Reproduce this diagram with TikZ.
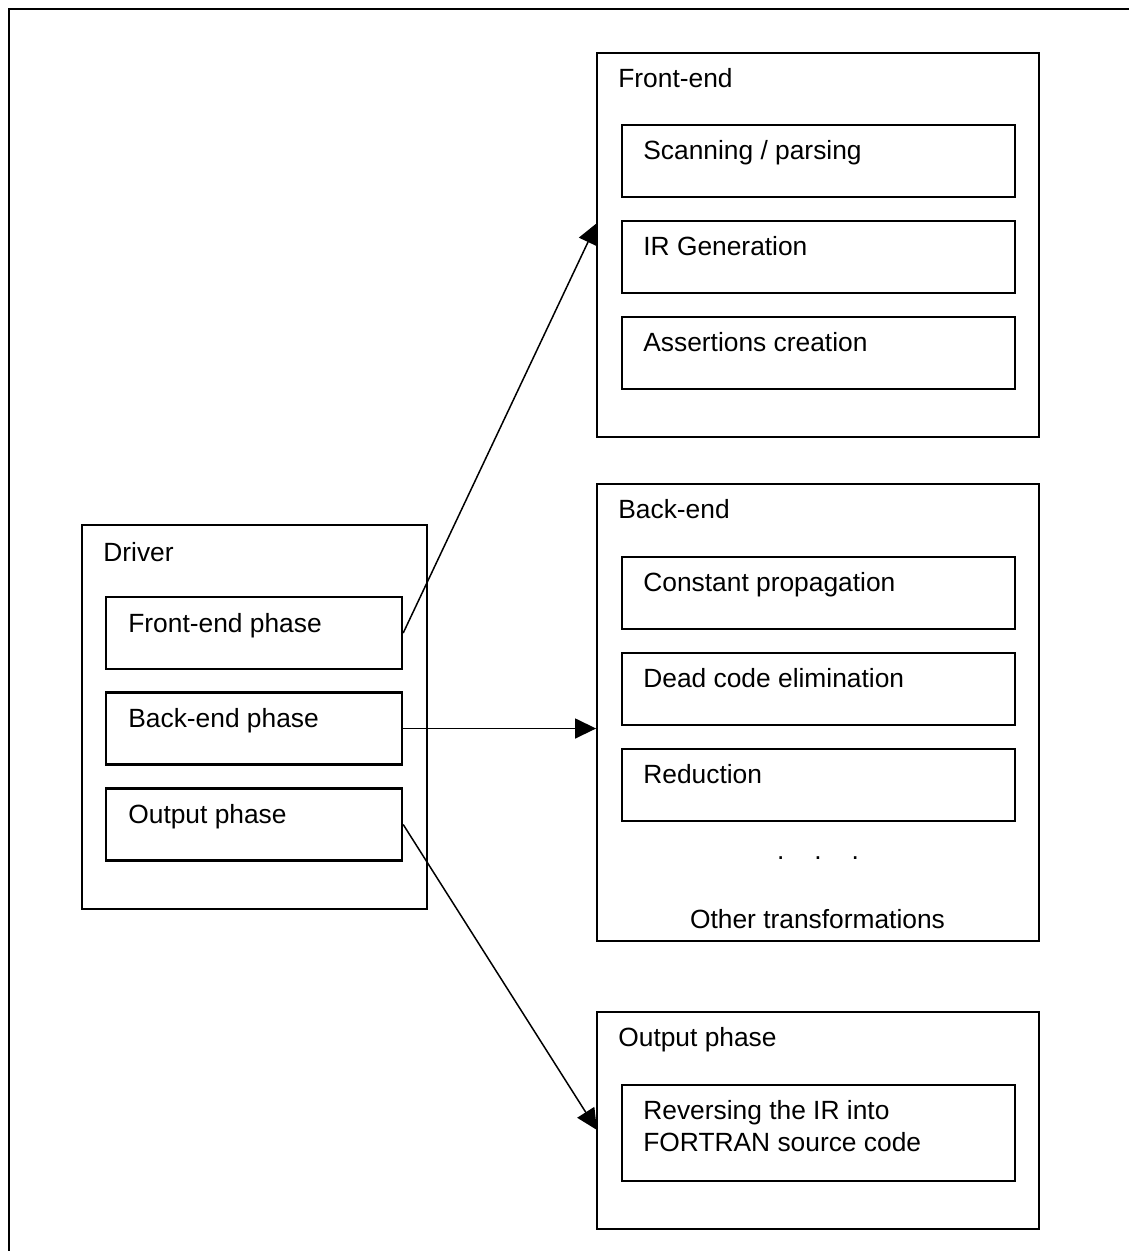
\documentclass[tikz,border=0pt]{standalone}
\usepackage{fontspec}
\setmainfont{Liberation Sans}
\usetikzlibrary{arrows.meta}
\tikzset{
    box/.style={draw, line width=1.1pt, inner sep=0pt},
    phbox/.style={draw, line width=1.4pt, inner sep=0pt, minimum width=5.92cm, minimum height=1.44cm},
    inbox/.style={draw, line width=1.4pt, inner sep=0pt, minimum width=7.86cm, minimum height=1.44cm},
    lbl/.style={anchor=base west, inner sep=0pt, font=\fontsize{15}{18.2}\selectfont},
    conn/.style={line width=0.85pt, -{Triangle[length=0.42cm, width=0.4cm]}}
}

\begin{document}
\begin{tikzpicture}[x=0.02cm, y=-0.02cm]
\useasboundingbox (0,0) rectangle (1129,1251);
\draw[line width=1.1pt] (9,1251) -- (9,9) -- (1129,9);

% driver
\node[box, minimum width=6.9cm, minimum height=7.68cm] (drv) at (254.5,717) {};
\node[lbl] (drv-t) at (103,561) {Driver};
\foreach \y/\n/\t in {633/fep/Front-end phase, 728.5/bep/Back-end phase, 824.5/outp/Output phase} {
    \node[phbox] (\n) at (254,\y) {};
    \node[lbl] (\n-t) at (128,\y-1) {\t};
}

% front-end
\node[box, minimum width=8.84cm, minimum height=7.68cm] (fe) at (818,245) {};
\node[lbl] (fe-t) at (618,87) {Front-end};
\foreach \y/\n/\t in {161/scan/{Scanning / parsing}, 257/irgen/IR Generation, 353/asrt/Assertions creation} {
    \node[inbox] (\n) at (818.5,\y) {};
    \node[lbl] (\n-t) at (643,\y-2) {\t};
}

% back-end
\node[box, minimum width=8.84cm, minimum height=9.14cm] (be) at (818,712.5) {};
\node[lbl] (be-t) at (618,518) {Back-end};
\foreach \y/\n/\t in {593/cprop/Constant propagation, 689/dce/Dead code elimination, 785/red/Reduction} {
    \node[inbox] (\n) at (818.5,\y) {};
    \node[lbl] (\n-t) at (643,\y-2) {\t};
}
\node[lbl, anchor=base] (dots) at (818,859) {.\hskip0.6cm.\hskip0.6cm.};
\node[lbl, anchor=base] (oth) at (817.5,928) {Other transformations};

% output
\node[box, minimum width=8.84cm, minimum height=4.34cm] (out) at (818,1120.5) {};
\node[lbl] (out-t) at (618,1046) {Output phase};
\node[inbox, minimum height=1.92cm] (rev) at (818.5,1133) {};
\node[lbl, align=left] (rev-t) at (643,1151) {Reversing the IR into\\FORTRAN source code};

\coordinate (fe-in) at (597,223);
\coordinate (out-in) at (597,1130);
\draw[conn] (fep.east) -- (fe-in);
\draw[conn] (bep.east) -- (bep.east -| be.west);
\draw[conn] (outp.east) -- (out-in);
\end{tikzpicture}
\end{document}
